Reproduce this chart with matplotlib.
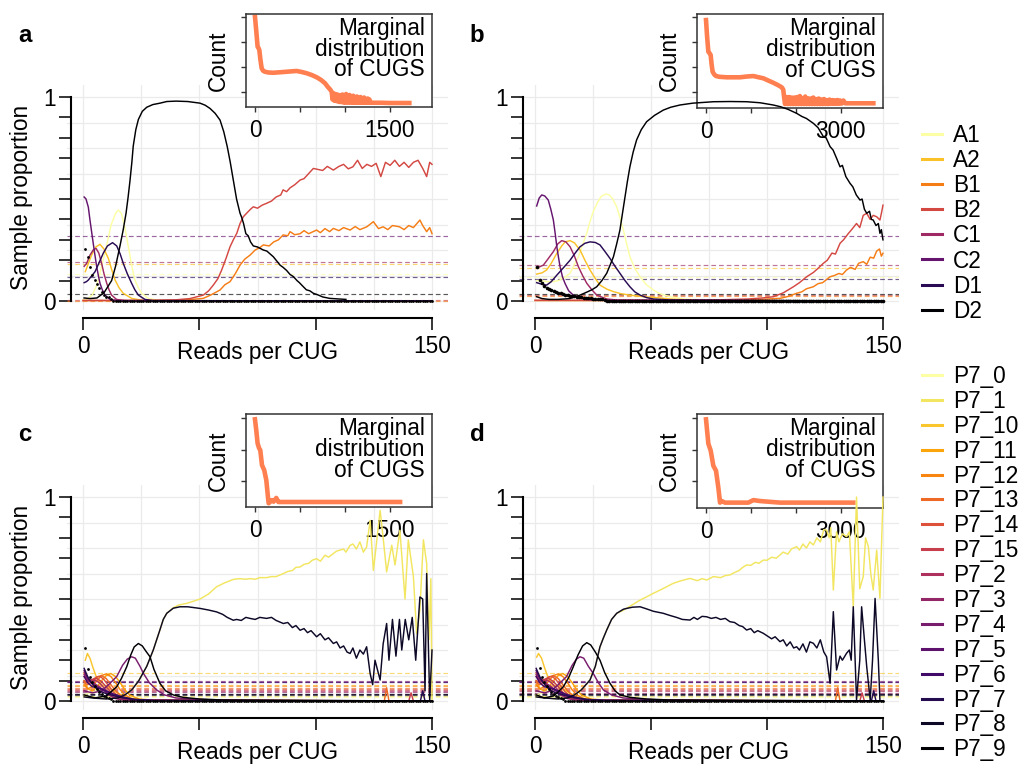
import numpy as np
import matplotlib
matplotlib.use('Agg')
import matplotlib.pyplot as plt
from matplotlib.lines import Line2D

plt.rcParams['font.family'] = ['Liberation Sans', 'DejaVu Sans']
FS = 16.3
W, H = 1019, 764

# ---------------- data ----------------
ab_names = ['A1', 'A2', 'B1', 'B2', 'C1', 'C2', 'D1', 'D2']
p7_names = ['P7_0', 'P7_1', 'P7_10', 'P7_11', 'P7_12', 'P7_13', 'P7_14', 'P7_15',
            'P7_2', 'P7_3', 'P7_4', 'P7_5', 'P7_6', 'P7_7', 'P7_8', 'P7_9']

# panel a : (reads per CUG, sample proportion)
a_A1 = [(0, 0.005), (2, 0.01), (4, 0.03), (6, 0.08), (8, 0.168), (10.2, 0.275), (12, 0.37), (14, 0.43),
        (15.2, 0.446), (16.5, 0.43), (18, 0.36), (19.5, 0.266), (21, 0.17), (22.3, 0.103), (24, 0.06),
        (25.2, 0.038), (28, 0.013), (32, 0.004), (40, 0.001), (150, 0.0)]
a_A2 = [(1, 0.144), (2.5, 0.19), (3.7, 0.225), (5.5, 0.265), (7.3, 0.278), (9, 0.255), (10.9, 0.209),
        (12.3, 0.155), (13.8, 0.103), (15.5, 0.065), (17.3, 0.038), (20.9, 0.013), (25, 0.004), (35, 0.001),
        (150, 0.0)]
a_B1 = [(0, 0.002), (20, 0.002), (40, 0.004), (46, 0.007), (51.7, 0.013), (55, 0.03), (58.9, 0.054),
        (61, 0.08), (63.2, 0.095), (65.5, 0.135), (67.5, 0.176), (69.5, 0.205), (71.8, 0.225), (74, 0.25),
        (76, 0.262), (77.5, 0.275), (80, 0.27), (82, 0.29), (84, 0.3), (86, 0.324), (88, 0.32), (89, 0.34),
        (91, 0.325), (93.3, 0.33), (95, 0.345), (97, 0.33), (100.4, 0.348), (102, 0.335), (104, 0.355),
        (106, 0.34), (107.6, 0.356), (110, 0.345), (112, 0.36), (114.8, 0.348), (117, 0.365), (119, 0.35),
        (122, 0.364), (124.8, 0.389), (127, 0.355), (129, 0.364), (131, 0.35), (133, 0.37), (136, 0.364),
        (138, 0.35), (140, 0.37), (142, 0.36), (144.8, 0.397), (146, 0.37), (147.7, 0.34), (149, 0.36),
        (150, 0.33)]
a_B2 = [(0, 0.003), (30, 0.003), (40, 0.006), (46, 0.012), (51.7, 0.029), (54, 0.05), (56, 0.078),
        (58, 0.11), (59.6, 0.152), (61.5, 0.21), (63.2, 0.266), (64.6, 0.3), (66.1, 0.332), (67.5, 0.38),
        (68.9, 0.413), (70.3, 0.43), (72, 0.45), (73.2, 0.462), (75, 0.455), (77, 0.47), (78.9, 0.479),
        (81, 0.49), (83, 0.51), (85, 0.52), (86, 0.545), (87.5, 0.536), (89, 0.555), (91, 0.57), (93.3, 0.593),
        (95, 0.6), (97, 0.625), (99, 0.65), (101, 0.645), (103, 0.64), (105, 0.66), (107.6, 0.642), (110, 0.66),
        (112, 0.67), (114, 0.648), (116, 0.658), (118, 0.69), (120, 0.65), (122, 0.67), (124, 0.66),
        (126, 0.675), (128, 0.61), (130, 0.68), (132, 0.665), (134, 0.69), (136, 0.66), (138, 0.68),
        (140, 0.655), (142, 0.68), (144, 0.69), (146, 0.65), (147.7, 0.61), (149, 0.68), (150, 0.67)]
a_C1 = [(0.5, 0.17), (1.6, 0.185), (3, 0.225), (4.5, 0.252), (5.6, 0.258), (6.8, 0.235), (8, 0.185),
        (9, 0.135), (10.2, 0.087), (11.2, 0.055), (12.3, 0.029), (14.4, 0.008), (18, 0.002), (150, 0.0)]
a_C2 = [(0.5, 0.51), (1.3, 0.5), (2.3, 0.46), (3, 0.397), (3.7, 0.34), (4.4, 0.283), (5.2, 0.22),
        (5.9, 0.168), (6.6, 0.125), (7.3, 0.087), (8.3, 0.055), (9.5, 0.029), (11.6, 0.008), (15, 0.002),
        (150, 0.0)]
a_D1 = [(0.5, 0.09), (1.5, 0.095), (2.3, 0.103), (3.5, 0.12), (5.2, 0.144), (7, 0.19), (8.7, 0.234),
        (10.5, 0.27), (12.7, 0.286), (14.5, 0.27), (16, 0.23), (17.3, 0.185), (19, 0.135), (20.9, 0.087),
        (22.3, 0.055), (23.8, 0.029), (26.6, 0.008), (30, 0.002), (150, 0.0)]
a_D2 = [(0.5, 0.015), (3, 0.012), (6, 0.015), (9, 0.04), (12.3, 0.1), (14, 0.17), (15.9, 0.27), (17.3, 0.35),
        (18.5, 0.43), (19.4, 0.51), (20.2, 0.59), (21, 0.68), (21.6, 0.76), (22.7, 0.84), (23.8, 0.89),
        (25.5, 0.93), (27.4, 0.95), (30, 0.963), (33.1, 0.97), (36, 0.978), (40, 0.98), (45, 0.978),
        (50.3, 0.97), (52.5, 0.96), (54.6, 0.944), (56.8, 0.92), (58.9, 0.887), (60.5, 0.83), (62, 0.757),
        (63.3, 0.68), (64.6, 0.593), (66, 0.5), (67.5, 0.43), (68.2, 0.41), (69, 0.38), (70, 0.33), (71, 0.32),
        (72, 0.29), (73.2, 0.27), (75, 0.265), (77.5, 0.25), (79, 0.245), (80.5, 0.23), (81.8, 0.217),
        (83, 0.2), (84.7, 0.176), (86, 0.165), (87.5, 0.15), (89, 0.13), (90.4, 0.12), (92, 0.1), (93, 0.09),
        (94.7, 0.07), (96, 0.055), (97.5, 0.05), (99, 0.038), (101, 0.03), (103, 0.02), (106, 0.013),
        (110, 0.01), (113, 0.008)]
a_means = [0.131, 0.183, 0.002, 0.003, 0.19, 0.32, 0.119, 0.034]
a_dots = [0.253, 0.217, 0.168, 0.127, 0.103, 0.083, 0.062, 0.042, 0.029, 0.022, 0.018, 0.012] + [0.0] * 138

# panel b
b_A1 = [(0.7, 0.1), (3, 0.1), (5, 0.095), (8, 0.095), (10.8, 0.103), (13, 0.118), (15.1, 0.136),
        (17, 0.18), (18.7, 0.217), (20.5, 0.275), (22.3, 0.332), (23.7, 0.39), (25.1, 0.438), (27, 0.485),
        (28.5, 0.512), (30.5, 0.525), (32, 0.52), (33.5, 0.5), (35.2, 0.462), (36.6, 0.41), (38.1, 0.348),
        (39.5, 0.28), (40.9, 0.217), (43, 0.16), (45.3, 0.119), (48, 0.08), (51, 0.054), (54, 0.035),
        (58.2, 0.021), (64, 0.01), (75, 0.004), (150, 0.0)]
b_A2 = [(0.7, 0.132), (3, 0.138), (5, 0.152), (7, 0.185), (9.4, 0.234), (11.5, 0.27), (13, 0.29),
        (15.1, 0.296), (17, 0.285), (19.4, 0.25), (21.5, 0.2), (23.7, 0.152), (26, 0.11), (28, 0.078),
        (31, 0.058), (33.8, 0.046), (37, 0.036), (40.9, 0.029), (46, 0.022), (51, 0.018), (58, 0.01),
        (65.5, 0.005), (80, 0.002), (150, 0.0)]
b_B1 = [(0, 0.002), (60, 0.002), (80, 0.003), (90, 0.005), (98, 0.008), (102, 0.011), (105.6, 0.013),
        (109, 0.022), (112.8, 0.038), (115, 0.045), (117, 0.06), (120, 0.07), (122, 0.085), (124, 0.09),
        (127.2, 0.119), (129, 0.125), (131, 0.135), (132.5, 0.13), (134.3, 0.152), (136, 0.165), (138, 0.155),
        (139.5, 0.185), (141.5, 0.193), (143, 0.18), (144.5, 0.215), (146, 0.21), (147.3, 0.245),
        (148.5, 0.255), (149.3, 0.22), (150, 0.234)]
b_B2 = [(0, 0.004), (50, 0.004), (80, 0.006), (92, 0.01), (98, 0.015), (102.7, 0.021), (107, 0.04),
        (111.4, 0.07), (114, 0.09), (117.1, 0.119), (120, 0.14), (122, 0.16), (124.3, 0.185), (126, 0.2),
        (128, 0.235), (129.5, 0.23), (131.5, 0.283), (133, 0.3), (135, 0.33), (136.5, 0.35), (138.6, 0.38),
        (140, 0.36), (141.5, 0.42), (143, 0.43), (144.5, 0.4), (145.8, 0.42), (147.3, 0.413), (148.7, 0.397),
        (149.5, 0.44), (150, 0.47)]
b_C1 = [(0.7, 0.165), (2, 0.168), (3.6, 0.176), (5.5, 0.205), (7.9, 0.242), (9.8, 0.28), (11.5, 0.296),
        (13.3, 0.29), (15.1, 0.266), (17, 0.22), (18.7, 0.168), (20.5, 0.125), (22.3, 0.087), (24.5, 0.055),
        (26.6, 0.029), (30.9, 0.01), (36, 0.004), (150, 0.0)]
b_C2 = [(0.7, 0.466), (1.8, 0.505), (2.9, 0.52), (4.2, 0.515), (5.7, 0.495), (6.8, 0.45), (7.9, 0.397),
        (8.7, 0.33), (9.4, 0.266), (10.1, 0.215), (10.8, 0.168), (11.8, 0.12), (12.9, 0.087), (14.5, 0.05),
        (16.5, 0.029), (19.4, 0.015), (22.3, 0.008), (27, 0.004), (150, 0.0)]
b_D1 = [(0.7, 0.09), (3, 0.082), (5, 0.078), (7, 0.095), (9.4, 0.127), (12, 0.16), (15.1, 0.2),
        (17.3, 0.235), (19.4, 0.266), (21.5, 0.283), (23.7, 0.29), (26, 0.287), (28, 0.275), (30, 0.245),
        (32.3, 0.209), (34.5, 0.17), (36.6, 0.136), (38.8, 0.1), (40.9, 0.07), (43, 0.045), (45.3, 0.029),
        (48, 0.017), (51, 0.01), (58, 0.005), (150, 0.0)]
b_D2 = [(0.7, 0.021), (3, 0.012), (6, 0.008), (10, 0.008), (15, 0.012), (19.4, 0.029), (22, 0.042),
        (24.5, 0.055), (26.6, 0.07), (28.8, 0.1), (30.9, 0.136), (32.5, 0.18), (33.8, 0.217), (35.2, 0.28),
        (36.6, 0.348), (37.7, 0.43), (38.8, 0.511), (39.8, 0.585), (40.9, 0.658), (42.3, 0.73), (43.8, 0.79),
        (45.8, 0.84), (48.1, 0.879), (51.5, 0.91), (55.3, 0.936), (58.5, 0.95), (62.5, 0.961), (68, 0.97),
        (76.9, 0.977), (84, 0.978), (91.2, 0.977), (97, 0.972), (102.7, 0.961), (106, 0.952), (109, 0.94),
        (112.8, 0.92), (115, 0.905), (117, 0.895), (120, 0.871), (122, 0.85), (124.3, 0.806), (125.5, 0.8),
        (127.2, 0.757), (128.5, 0.74), (130, 0.7), (131.5, 0.658), (132.5, 0.665), (134, 0.61),
        (135.8, 0.577), (137, 0.56), (138.5, 0.52), (140.1, 0.495), (141, 0.5), (142, 0.45), (143, 0.43),
        (144.2, 0.44), (145, 0.4), (145.8, 0.397), (147, 0.37), (148, 0.38), (148.7, 0.332), (149.3, 0.35),
        (150, 0.3)]
b_means = [0.119, 0.163, 0.025, 0.029, 0.178, 0.32, 0.109, 0.034]
b_dots = [0.165, 0.103, 0.087, 0.075, 0.066, 0.06, 0.054, 0.049, 0.045, 0.041, 0.037, 0.034, 0.031,
          0.029, 0.027, 0.025, 0.023, 0.021, 0.019, 0.018, 0.016, 0.015, 0.014, 0.013, 0.012, 0.011,
          0.01, 0.009, 0.008, 0.007] + [0.0] * 120

# panel c
c_P7_0 = [(0.5, 0.03), (3, 0.04), (6, 0.05), (9, 0.055), (12, 0.05), (15, 0.035), (18, 0.02), (22, 0.008),
          (30, 0.002), (150, 0.0)]
c_P7_1 = [(0.5, 0.03), (3, 0.02), (8, 0.012), (14, 0.015), (18, 0.03), (21, 0.055), (24, 0.1), (27.4, 0.17),
          (30.2, 0.25), (33.1, 0.35), (34.5, 0.4), (36, 0.43), (38.8, 0.457), (41, 0.47), (45, 0.48),
          (50.3, 0.5), (54, 0.525), (57.4, 0.56), (61, 0.58), (64.6, 0.596), (67, 0.6), (70, 0.597),
          (71.8, 0.6), (74, 0.597), (76, 0.605), (78.9, 0.605), (81, 0.61), (83, 0.61), (86.1, 0.625),
          (88, 0.635), (90, 0.64), (91.5, 0.655), (93.3, 0.657), (95, 0.67), (97, 0.675), (98.5, 0.69),
          (100.4, 0.698), (102, 0.685), (104, 0.715), (105.5, 0.705), (107.6, 0.723), (109, 0.735),
          (110.5, 0.74), (112, 0.745), (113, 0.73), (114.8, 0.763), (116, 0.77), (117.5, 0.745), (119, 0.78),
          (120.5, 0.73), (121.9, 0.755), (123.4, 0.886), (124.8, 0.64), (126, 0.76), (127.7, 0.935),
          (129, 0.8), (130.5, 0.633), (132.7, 0.764), (134.1, 0.667), (136.2, 0.837), (138.4, 0.5),
          (139.8, 0.79), (142, 0.61), (143.4, 0.33), (144.8, 0.45), (146.3, 0.79), (147.7, 0.675),
          (148.7, 0.3), (149.5, 0.6), (150, 0.0)]
c_P7_10 = [(1, 0.2), (1.9, 0.233), (3, 0.21), (4.4, 0.16), (6, 0.11), (8, 0.08), (10, 0.07), (12, 0.06),
           (15, 0.04), (18, 0.02), (22, 0.008), (30, 0.003), (150, 0.0)]
c_P7_11 = [(0.5, 0.1), (2, 0.06), (4, 0.05), (6, 0.07), (8, 0.1), (10, 0.125), (12, 0.135), (14, 0.12),
           (16, 0.09), (18, 0.055), (20, 0.03), (24, 0.01), (30, 0.004), (150, 0.0)]
c_P7_12 = [(0.5, 0.08), (2, 0.06), (4, 0.07), (6, 0.1), (8, 0.125), (10, 0.133), (12, 0.12), (14, 0.09),
           (16, 0.055), (18, 0.03), (21, 0.012), (26, 0.004), (150, 0.0)]
c_P7_13 = [(0.5, 0.09), (2, 0.08), (4, 0.095), (6, 0.118), (8, 0.125), (10, 0.11), (12, 0.08), (14, 0.05),
           (16, 0.028), (19, 0.012), (24, 0.004), (129.5, 0.0), (130.5, 0.065), (131.5, 0.0), (150, 0.0)]
c_P7_14 = [(0.5, 0.1), (2, 0.09), (4, 0.105), (6, 0.118), (7.5, 0.12), (9, 0.105), (11, 0.075),
           (13, 0.045), (15, 0.025), (18, 0.01), (24, 0.003), (150, 0.0)]
c_P7_15 = [(0.5, 0.12), (2, 0.1), (4, 0.105), (6, 0.11), (8, 0.095), (10, 0.07), (12, 0.042), (14, 0.022),
           (17, 0.009), (22, 0.003), (140, 0.0), (141, 0.04), (142, 0.0), (150, 0.0)]
c_P7_2 = [(0.5, 0.14), (2, 0.11), (4, 0.1), (5.5, 0.1), (7, 0.09), (9, 0.065), (11, 0.04), (13, 0.02),
          (16, 0.008), (22, 0.002), (150, 0.0)]
c_P7_3 = [(0.5, 0.13), (2, 0.1), (3.5, 0.09), (5, 0.085), (7, 0.07), (9, 0.05), (11, 0.03), (14, 0.012),
          (18, 0.004), (150, 0.0)]
c_P7_4 = [(0.5, 0.05), (4, 0.04), (8, 0.05), (11, 0.08), (14.5, 0.12), (17, 0.175), (19, 0.205),
          (20.9, 0.217), (22.5, 0.21), (24.5, 0.17), (26, 0.135), (28.5, 0.09), (31.7, 0.054), (35, 0.03),
          (40, 0.015), (50, 0.008), (60, 0.004), (150, 0.0)]
c_P7_5 = [(0.5, 0.15), (2, 0.11), (4, 0.085), (6, 0.07), (8, 0.055), (10, 0.045), (13, 0.03), (17, 0.015),
          (22, 0.006), (30, 0.002), (150, 0.0)]
c_P7_6 = [(0.5, 0.12), (2, 0.09), (4, 0.07), (6, 0.065), (8, 0.06), (10, 0.05), (13, 0.035), (17, 0.02),
          (22, 0.008), (30, 0.003), (150, 0.0)]
c_P7_7 = [(0.5, 0.16), (2, 0.12), (3.5, 0.09), (5, 0.07), (7, 0.05), (9, 0.04), (12, 0.03), (16, 0.018),
          (22, 0.008), (30, 0.003), (145, 0.0), (146, 0.05), (147, 0.0), (150, 0.0)]
c_P7_8 = [(0.5, 0.02), (4, 0.015), (10, 0.01), (15, 0.015), (18, 0.03), (21, 0.055), (24, 0.1),
          (27.4, 0.17), (30.2, 0.25), (33.1, 0.35), (34.5, 0.4), (36, 0.43), (38.8, 0.455), (41.7, 0.462),
          (45, 0.462), (50.3, 0.454), (54, 0.446), (57.4, 0.437), (60, 0.425), (62, 0.41), (64.6, 0.396),
          (66, 0.4), (68, 0.395), (70, 0.41), (71.8, 0.405), (74, 0.4), (76, 0.41), (78.9, 0.405), (81, 0.41),
          (83, 0.395), (86.1, 0.38), (88, 0.385), (90, 0.36), (91.5, 0.37), (93.3, 0.347), (95, 0.355),
          (96.5, 0.335), (98, 0.345), (100.4, 0.315), (102, 0.33), (104, 0.3), (105.5, 0.31), (107.6, 0.282),
          (109, 0.29), (110.5, 0.26), (112, 0.27), (113.5, 0.24), (114.8, 0.233), (116, 0.26), (117.5, 0.21),
          (119, 0.25), (120.5, 0.23), (121.9, 0.266), (123.4, 0.135), (124.5, 0.08), (125.5, 0.2),
          (127.7, 0.103), (129, 0.28), (130.5, 0.38), (131.5, 0.2), (133, 0.4), (134.5, 0.22), (136, 0.4),
          (137, 0.25), (138.5, 0.4), (140, 0.3), (141.5, 0.41), (143, 0.2), (144.8, 0.51), (146, 0.5),
          (147, 0.05), (147.7, 0.625), (149, 0.005), (150, 0.25)]
c_P7_9 = [(0.5, 0.03), (5, 0.015), (10, 0.025), (12, 0.045), (14.5, 0.07), (16.5, 0.11), (18.8, 0.168),
          (20.5, 0.225), (22, 0.265), (23.8, 0.282), (25.5, 0.27), (27, 0.245), (28.8, 0.217), (30.5, 0.155),
          (33.1, 0.086), (35.5, 0.05), (38.8, 0.03), (43, 0.018), (50, 0.01), (60, 0.005), (150, 0.0)]
c_means = [0.02, 0.025, 0.135, 0.078, 0.072, 0.066, 0.06, 0.054, 0.048, 0.042, 0.098, 0.094, 0.091,
           0.036, 0.03, 0.032]
c_dots = [0.258, 0.155, 0.12, 0.095, 0.075, 0.06, 0.045, 0.035, 0.027, 0.02, 0.015, 0.01] + [0.0] * 138

# panel d (the small low-count bumps look the same as in c)
d_P7_1 = [(0.5, 0.03), (3, 0.02), (8, 0.012), (13, 0.015), (17, 0.03), (20, 0.055), (23.7, 0.103),
          (26, 0.17), (28, 0.266), (29.5, 0.31), (30.9, 0.348), (33, 0.4), (35.2, 0.43), (38.1, 0.445),
          (41, 0.465), (45.3, 0.495), (48, 0.51), (51, 0.528), (55, 0.55), (59.6, 0.577), (63, 0.59),
          (66.8, 0.601), (70, 0.59), (72, 0.6), (74, 0.593), (76.9, 0.61), (80, 0.605), (82, 0.615),
          (84, 0.618), (86, 0.63), (88, 0.64), (89.5, 0.655), (91.2, 0.667), (93, 0.665), (95, 0.68),
          (96.5, 0.675), (98.4, 0.691), (100, 0.69), (102, 0.705), (104, 0.7), (105.6, 0.716), (107, 0.73),
          (109, 0.72), (110.5, 0.745), (112.8, 0.757), (114, 0.74), (115.5, 0.77), (117, 0.75), (118.5, 0.78),
          (120, 0.765), (121.5, 0.8), (123, 0.78), (124.5, 0.84), (125.7, 0.838), (126.8, 0.8), (127.5, 0.85),
          (128.6, 0.544), (130, 0.83), (131, 0.78), (132.5, 0.82), (134.3, 0.806), (135.5, 0.83),
          (137.2, 0.462), (138.6, 1.0), (140, 0.55), (141.5, 0.61), (142.5, 0.8), (143.7, 0.757),
          (144.8, 0.62), (145.8, 0.544), (147.3, 0.74), (148.7, 0.503), (150, 1.0)]
d_P7_10 = [(0.7, 0.215), (1.5, 0.233), (2.8, 0.21), (4.2, 0.16), (5.8, 0.11), (7.8, 0.08), (10, 0.07),
           (12, 0.06), (15, 0.04), (18, 0.02), (22, 0.008), (30, 0.003), (150, 0.0)]
d_P7_4 = [(0.5, 0.05), (4, 0.04), (7, 0.05), (10, 0.08), (13.6, 0.12), (16, 0.175), (17.8, 0.205),
          (19.4, 0.217), (21, 0.21), (23, 0.17), (25.1, 0.135), (27.3, 0.09), (29.5, 0.054), (33, 0.03),
          (38, 0.015), (48, 0.008), (58, 0.004), (150, 0.0)]
d_P7_8 = [(0.5, 0.02), (4, 0.015), (10, 0.01), (14, 0.015), (17, 0.03), (20, 0.055), (23.7, 0.103),
          (26, 0.17), (28, 0.266), (29.5, 0.31), (30.9, 0.348), (33, 0.4), (35.2, 0.43), (38.1, 0.45),
          (39.5, 0.454), (42, 0.46), (45.3, 0.462), (48, 0.452), (51, 0.44), (55.3, 0.43), (58, 0.42),
          (61, 0.41), (63.5, 0.4), (66.8, 0.397), (68.5, 0.41), (70, 0.4), (72, 0.415), (74, 0.413),
          (76, 0.405), (78, 0.41), (80, 0.4), (82, 0.405), (84, 0.389), (86, 0.385), (88, 0.37), (89.5, 0.365),
          (91.2, 0.348), (93, 0.355), (94.5, 0.335), (96, 0.345), (98.4, 0.332), (100, 0.32), (102, 0.305),
          (103.5, 0.315), (105.6, 0.291), (107, 0.3), (108.5, 0.27), (110, 0.29), (111.5, 0.26),
          (112.8, 0.266), (114, 0.25), (115.5, 0.28), (117, 0.24), (118.5, 0.29), (120, 0.283), (121.5, 0.26),
          (123, 0.3), (124.5, 0.24), (125.7, 0.217), (127.2, 0.087), (128.6, 0.438), (130, 0.152),
          (131.5, 0.22), (132.5, 0.2), (134.3, 0.234), (135.5, 0.25), (136.3, 0.2), (137.2, 0.462),
          (138.6, 0.005), (140, 0.2), (140.8, 0.462), (142, 0.3), (143, 0.168), (144.5, 0.005), (145.5, 0.2),
          (146.6, 0.503), (148, 0.2), (148.7, 0.0), (150, 0.0)]
d_P7_9 = [(0.5, 0.03), (4, 0.015), (8, 0.025), (10, 0.045), (12.2, 0.07), (14.5, 0.115), (16.5, 0.168),
          (18.5, 0.225), (20.5, 0.27), (22.3, 0.286), (24, 0.275), (26, 0.24), (28, 0.2), (30, 0.14),
          (32.3, 0.087), (34.5, 0.05), (36.6, 0.03), (41, 0.018), (48, 0.01), (58, 0.005), (150, 0.0)]
d_means = [0.02, 0.025, 0.135, 0.078, 0.072, 0.065, 0.059, 0.053, 0.047, 0.041, 0.098, 0.094, 0.091,
           0.036, 0.03, 0.032]
d_dots = [0.258, 0.16, 0.12, 0.095, 0.075, 0.058, 0.045, 0.035, 0.026, 0.02, 0.015, 0.01] + [0.0] * 138

# insets: marginal distribution of CUGs (reads per CUG, count on a log10 scale)
a_marg = [(0, 4.0), (15, 3.4), (29, 2.81), (40, 2.75), (48, 2.68), (60, 2.3), (74, 1.95), (90, 1.85),
          (111, 1.81), (150, 1.78), (204, 1.77), (280, 1.79), (352, 1.81), (420, 1.83), (463, 1.84),
          (520, 1.8), (574, 1.75), (630, 1.68), (685, 1.59), (735, 1.48), (778, 1.35), (810, 1.2),
          (835, 1.1), (852, 1.01), (862, 0.7), (872, 0.95), (882, 0.65), (892, 0.92), (902, 0.64),
          (912, 0.9), (922, 0.62), (932, 0.88), (942, 0.6), (952, 0.86), (962, 0.6), (972, 0.9), (982, 0.58),
          (992, 0.82), (1002, 0.58), (1012, 0.92), (1022, 0.58), (1032, 0.8), (1042, 0.58), (1052, 0.88),
          (1062, 0.58), (1072, 0.78), (1082, 0.58), (1092, 0.85), (1102, 0.57), (1112, 0.76), (1122, 0.57),
          (1132, 0.82), (1142, 0.57), (1152, 0.75), (1162, 0.57), (1172, 0.8), (1182, 0.57), (1192, 0.72),
          (1202, 0.57), (1212, 0.78), (1222, 0.57), (1232, 0.7), (1242, 0.57), (1252, 0.74), (1262, 0.57),
          (1272, 0.7), (1282, 0.57), (1300, 0.57), (1400, 0.57), (1500, 0.56), (1600, 0.56), (1715, 0.56)]
b_marg = [(0, 3.88), (25, 3.2), (52, 2.61), (80, 2.55), (104, 2.48), (125, 2.1), (148, 1.81), (185, 1.7),
          (223, 1.64), (300, 1.61), (460, 1.59), (600, 1.59), (757, 1.59), (900, 1.62), (1054, 1.64),
          (1150, 1.6), (1277, 1.55), (1400, 1.45), (1500, 1.37), (1600, 1.28), (1686, 1.19), (1720, 1.1),
          (1738, 0.81), (1760, 0.52), (1790, 0.8), (1820, 0.52), (1850, 0.8), (1880, 0.52), (1910, 0.78),
          (1940, 0.52), (1970, 0.78), (2000, 0.52), (2030, 0.8), (2060, 0.52), (2090, 0.84), (2120, 0.52),
          (2150, 0.76), (2180, 0.52), (2210, 0.82), (2240, 0.52), (2270, 0.75), (2300, 0.52), (2330, 0.74),
          (2360, 0.52), (2390, 0.78), (2420, 0.52), (2450, 0.72), (2480, 0.52), (2510, 0.74), (2540, 0.52),
          (2570, 0.7), (2600, 0.52), (2630, 0.72), (2660, 0.52), (2690, 0.68), (2720, 0.52), (2750, 0.7),
          (2780, 0.53), (2810, 0.68), (2840, 0.53), (2870, 0.67), (2900, 0.53), (2930, 0.68), (2960, 0.53),
          (2990, 0.66), (3020, 0.54), (3060, 0.66), (3100, 0.55), (3300, 0.55), (3500, 0.55), (3727, 0.55)]
c_marg = [(0, 2.97), (15, 2.6), (29, 2.2), (45, 2.05), (59, 1.98), (78, 1.5), (103, 1.34), (126, 1.02),
          (144, 0.49), (152, 0.28), (170, 0.33), (189, 0.38), (207, 0.33), (237, 0.45), (260, 0.32),
          (281, 0.32), (800, 0.32), (1615, 0.32)]
d_marg = [(0, 2.97), (25, 2.6), (52, 2.2), (104, 1.98), (163, 1.5), (223, 1.34), (275, 0.8), (312, 0.33),
          (349, 0.38), (423, 0.33), (943, 0.33), (1054, 0.41), (1203, 0.38), (1648, 0.33), (3281, 0.33)]

# ---------------- drawing ----------------
fig = plt.figure(figsize=(W / 100, H / 100), dpi=100)


def frac(l, t, r, b):
    return [l / W, 1 - b / H, (r - l) / W, (b - t) / H]


def panel(rect, irect, letter, lxy, names, curves, means, dots, dot_ms, marg,
          ixlim, ixticks, iylim, iyticks, ylabel):
    cols = plt.cm.inferno(np.linspace(1, 0, len(names)))
    pos = frac(*rect)

    # grid underneath everything
    g = fig.add_axes(pos, zorder=0)
    g.set_xlim(-7, 157)
    g.set_ylim(-0.045, 1.06)
    for x in range(0, 151, 25):
        g.axvline(x, color='#EBEBEB', lw=0.9)
    for y in np.arange(0, 1.001, 0.125):
        g.axhline(y, color='#EBEBEB', lw=0.9)
    g.axis('off')

    # inset with the marginal distribution
    ins = fig.add_axes(frac(*irect), zorder=1)
    mx, my = zip(*marg)
    ins.plot(mx, my, color='#FF7F50', lw=3.3, solid_joinstyle='round')
    ins.set_xlim(*ixlim)
    ins.set_ylim(*iylim)
    ins.set_xticks(ixticks)
    ins.set_xticklabels(['0', '', '', str(ixticks[-1])])
    ins.set_yticks(iyticks)
    ins.set_yticklabels([])
    ins.tick_params(length=3.3, width=1.0, color='#333333', labelsize=FS)
    ins.tick_params(axis='x', pad=5)
    for s in ins.spines.values():
        s.set_color('#333333')
        s.set_linewidth(1.1)
    ins.set_ylabel('Count', fontsize=FS)
    ins.yaxis.set_label_coords(-0.086, 0.5)
    ins.text(0.962, 0.97, 'Marginal\ndistribution\nof CUGS', transform=ins.transAxes,
             ha='right', va='top', fontsize=FS, linespacing=0.88)

    # main axes on top, transparent
    ax = fig.add_axes(pos, zorder=2, facecolor='none')
    ax.set_xlim(-7, 157)
    ax.set_ylim(-0.045, 1.06)
    for m, c in zip(means, cols):
        ax.axhline(m, color=c, lw=0.85, ls=(0, (4, 2.5)), alpha=0.65)
    for pts, c in zip(curves, cols):
        x, y = zip(*pts)
        ax.plot(x, y, color=c, lw=1.05)
    ax.plot(range(1, len(dots) + 1), dots, 'o', color='black', ms=dot_ms, mew=0)

    for s in ['top', 'right']:
        ax.spines[s].set_visible(False)
    ax.spines['left'].set_position(('data', -5.3))
    ax.spines['left'].set_bounds(0, 1)
    ax.spines['bottom'].set_position(('outward', 5.7))
    ax.spines['bottom'].set_bounds(0, 150)
    for s in ['left', 'bottom']:
        ax.spines[s].set_linewidth(1.5)
    ax.set_xticks([0, 50, 100, 150])
    ax.set_xticklabels(['0', '', '', '150'])
    ax.set_yticks(np.arange(0, 1.001, 0.1))
    ax.set_yticklabels(['0'] + [''] * 9 + ['1'])
    ax.tick_params(length=8.5, width=1.1, labelsize=FS, pad=2)
    ax.tick_params(axis='x', pad=4)
    ax.text(0.5, -0.186, 'Reads per CUG', transform=ax.transAxes, ha='center', va='center', fontsize=FS)
    if ylabel:
        ax.set_ylabel('Sample proportion', fontsize=FS)
        ax.yaxis.set_label_coords(-0.088, 0.5)

    fig.text(lxy[0] / W, 1 - lxy[1] / H, letter, fontsize=FS + 1, fontweight='bold',
             ha='center', va='center')


def legend(names, y0, dy):
    cols = plt.cm.inferno(np.linspace(1, 0, len(names)))
    for i, (n, c) in enumerate(zip(names, cols)):
        yp = y0 + i * dy
        fig.add_artist(Line2D([921.7 / W, 941.7 / W], [1 - yp / H, 1 - yp / H], color=c, lw=2.2))
        fig.text(953 / W, 1 - (yp + 8) / H, n, fontsize=FS, va='baseline', ha='left')


ab_xlim, ab_xticks = (-100, 1967), [0, 500, 1000, 1500]
bd_xlim, bd_xticks = (-194, 3935), [0, 1000, 2000, 3000]

panel((66.7, 84.8, 448.3, 310.2), (246, 14, 432, 107), 'a', (25, 35), ab_names,
      [a_A1, a_A2, a_B1, a_B2, a_C1, a_C2, a_D1, a_D2], a_means, a_dots, 2.0, a_marg,
      ab_xlim, ab_xticks, (0.4, 4.12), [1, 2, 3, 4], True)
panel((518.8, 84.8, 899.2, 310.2), (697.3, 14.3, 882.7, 108.3), 'b', (477, 35), ab_names,
      [b_A1, b_A2, b_B1, b_B2, b_C1, b_C2, b_D1, b_D2], b_means, b_dots, 2.6, b_marg,
      bd_xlim, bd_xticks, (0.35, 4.11), [1, 2, 3, 4], False)
panel((66.7, 484.8, 448.3, 710.2), (246, 414.3, 431.7, 507.3), 'c', (25, 435), p7_names,
      [c_P7_0, c_P7_1, c_P7_10, c_P7_11, c_P7_12, c_P7_13, c_P7_14, c_P7_15,
       c_P7_2, c_P7_3, c_P7_4, c_P7_5, c_P7_6, c_P7_7, c_P7_8, c_P7_9], c_means, c_dots, 2.0, c_marg,
      ab_xlim, ab_xticks, (0.15, 3.13), [1, 2, 3], True)
panel((518.8, 484.8, 899.2, 710.2), (697.3, 414.3, 882.7, 508.3), 'd', (477, 435), p7_names,
      [c_P7_0, d_P7_1, d_P7_10, c_P7_11, c_P7_12, c_P7_13, c_P7_14, c_P7_15,
       c_P7_2, c_P7_3, d_P7_4, c_P7_5, c_P7_6, c_P7_7, d_P7_8, d_P7_9], d_means, d_dots, 2.0, d_marg,
      bd_xlim, bd_xticks, (0.15, 3.13), [1, 2, 3], False)

legend(ab_names, 134, 25.1)
legend(p7_names, 375, 24.89)

fig.savefig('out.png', dpi=100)
